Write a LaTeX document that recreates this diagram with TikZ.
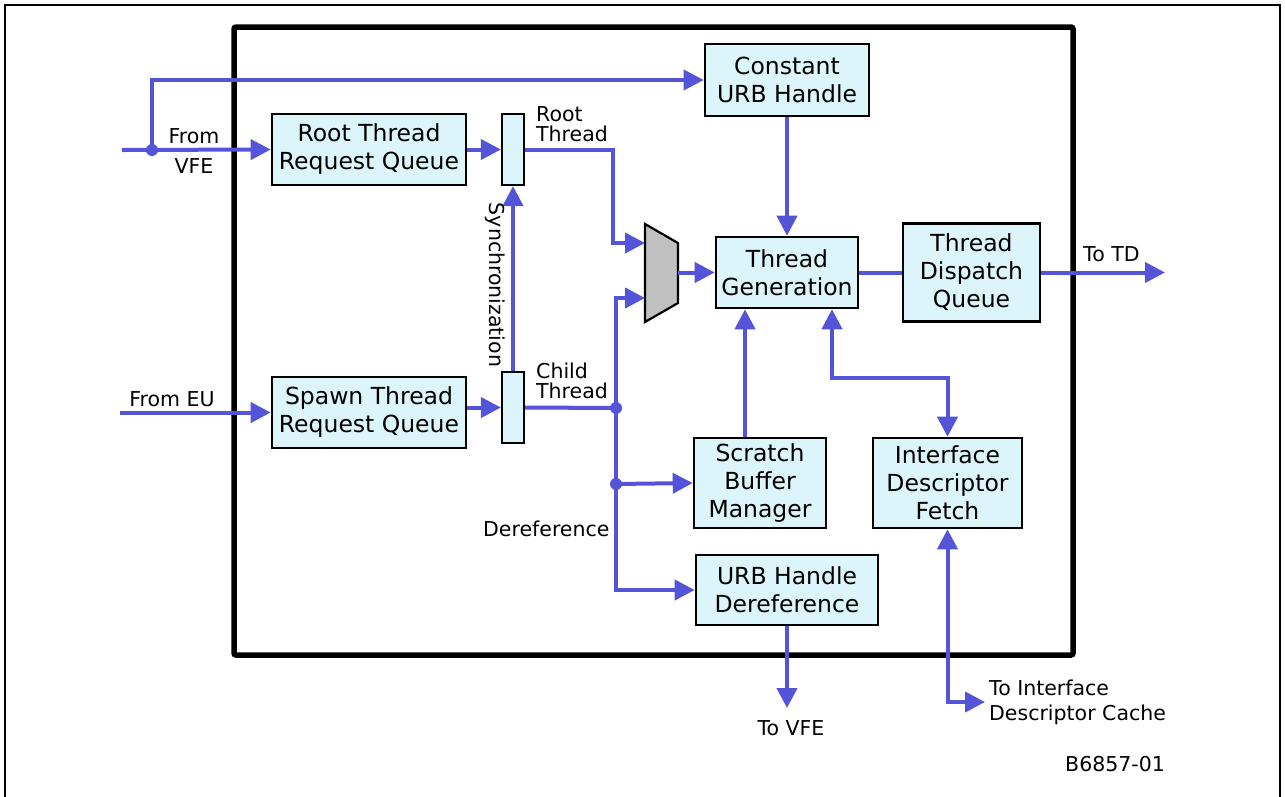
\documentclass[tikz,border=0pt]{standalone}
\usepackage{fontspec}
\setmainfont{DejaVu Sans}
\usetikzlibrary{arrows.meta,calc}
\definecolor{lineblue}{RGB}{84,84,216}
\definecolor{boxfill}{RGB}{220,245,250}
\definecolor{muxgray}{RGB}{192,192,192}
\tikzset{
 blk/.style={draw=black, line width=2.6pt, fill=boxfill, align=center, inner sep=0pt, font=\fontsize{23.5}{28}\selectfont},
 barbox/.style={draw=black, line width=2.2pt, fill=boxfill, inner sep=0pt, minimum width=22pt, minimum height=71pt},
 wire/.style={draw=lineblue, line width=4pt},
 conn/.style={wire, -{Triangle[length=20pt,width=20pt]}},
 biconn/.style={wire, {Triangle[length=20pt,width=20pt]}-{Triangle[length=20pt,width=20pt]}},
 jdot/.style={circle, fill=lineblue, inner sep=0pt, minimum size=12pt},
 lbl/.style={font=\fontsize{20.5}{24}\selectfont, inner sep=0pt},
}
\begin{document}
\begin{tikzpicture}[x=1pt,y=-1pt]
\useasboundingbox (0,0) rectangle (1285,796);
\clip (0,0) rectangle (1285,796);
\fill[white] (0,0) rectangle (1285,796);
% outer frame
\draw[line width=2.5pt] (5,5) rectangle (1280,812);
% main block
\draw[line width=5.5pt, rounded corners=2pt] (234,27) rectangle (1073,655);

% boxes
\node[blk, minimum width=164pt, minimum height=72pt] (cuh) at (787,80) {Constant\\URB Handle};
\node[blk, minimum width=194pt, minimum height=71pt] (rtrq) at (369,149.5) {Root Thread\\Request Queue};
\node[barbox] (rbar) at (513,149.5) {};
\node[barbox] (cbar) at (513,407.5) {};
\node[blk, minimum width=194pt, minimum height=71pt] (strq) at (369,412.5) {Spawn Thread\\Request Queue};
\node[blk, minimum width=142pt, minimum height=71pt] (tg) at (787,272.5) {Thread\\Generation};
\node[blk, minimum width=137pt, minimum height=98pt] (tdq) at (971.5,272.5) {Thread\\Dispatch\\Queue};
\node[blk, minimum width=132pt, minimum height=90pt] (sbm) at (760,483) {Scratch\\Buffer\\Manager};
\node[blk, minimum width=149pt, minimum height=90pt] (idf) at (947.5,483) {Interface\\Descriptor\\Fetch};
\node[blk, minimum width=182pt, minimum height=70pt] (uhd) at (787,590) {URB Handle\\Dereference};

% mux
\draw[line width=2.2pt, fill=muxgray, line join=miter] (645,224) -- (678,243) -- (678,303) -- (645,322) -- cycle;
\coordinate (muxin1) at (645,243);
\coordinate (muxin2) at (645,298);
\coordinate (muxout) at (678,272.5);

% free ends
\coordinate (vfein) at (122,150);
\coordinate (euin) at (120,412.5);
\coordinate (totd) at (1165,272.5);
\coordinate (tovfe) at (787,708);
\coordinate (toidc) at (985,702);

% junction dots
\node[jdot] (vd) at (152,150) {};
\node[jdot] (cj) at (616,408) {};
\node[jdot] (dj) at (616,484) {};

% connectors
\draw[conn] (vfein) -- (rtrq.west);
\draw[conn] (vd.center) |- (cuh.west);
\draw[conn] (rtrq.east) -- (rbar.west);
\draw[conn] (rbar.east) -| ($(muxin1)+(-32,0)$) -- (muxin1);
\draw[conn] (euin) -- (strq.west);
\draw[conn] (strq.east |- cbar.west) -- (cbar.west);
\draw[conn] (cbar.north) -- (rbar.south);
\draw[wire] (cbar.east) -- (cj.center);
\draw[conn] (cj.center) |- (muxin2);
\draw[wire] (cj.center) -- (dj.center);
\draw[conn] (dj.center) -- (sbm.west);
\draw[conn] (dj.center) |- (uhd.west);
\draw[conn] (muxout) -- (tg.west);
\draw[conn] (cuh.south) -- (tg.north);
\draw[wire] (tg.east) -- (tdq.west);
\draw[conn] (tdq.east) -- (totd);
\draw[conn] ([xshift=-15pt]sbm.north) -- ([xshift=-15pt]sbm.north |- tg.south);
\draw[biconn] ([xshift=45pt]tg.south) -- ++(0,69) -| (idf.north);
\draw[biconn] (idf.south) |- (toidc);
\draw[conn] (uhd.south) -- (tovfe);

% labels
\node[lbl, anchor=base] (lfrom) at (194,143) {From};
\node[lbl, anchor=base] (lvfe) at (194,173) {VFE};
\node[lbl, anchor=base] (lfromeu) at (172,406) {From EU};
\node[lbl, anchor=base west] (lroot1) at (536,121) {Root};
\node[lbl, anchor=base west] (lroot2) at (536,141) {Thread};
\node[lbl, anchor=base west] (lchild1) at (536,378) {Child};
\node[lbl, anchor=base west] (lchild2) at (536,398) {Thread};
\node[lbl, rotate=-90] (lsync) at (495,285) {Synchronization};
\node[lbl, anchor=base west] (ltotd) at (1083,261) {To TD};
\node[lbl, anchor=base west] (lderef) at (483,536) {Dereference};
\node[lbl, anchor=base] (ltovfe) at (791,735) {To VFE};
\node[lbl, anchor=base west] (lidc1) at (989,695) {To Interface};
\node[lbl, anchor=base west] (lidc2) at (989,720) {Descriptor Cache};
\node[lbl, anchor=base west] (lfig) at (1065,771) {B6857-01};
\end{tikzpicture}
\end{document}
